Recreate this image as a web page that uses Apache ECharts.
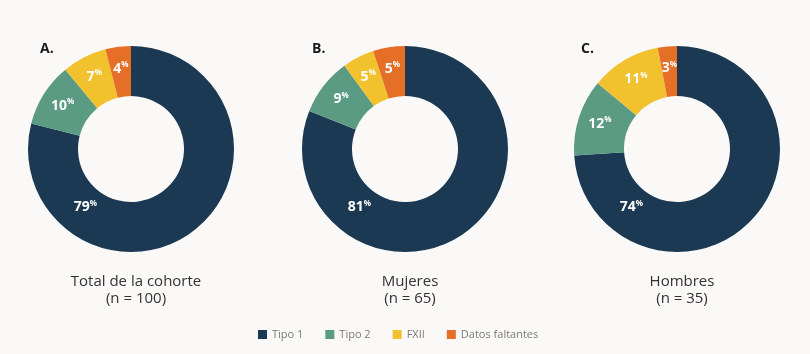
<!DOCTYPE html>
<html>
<head>
<meta charset="utf-8">
<script src="https://cdn.jsdelivr.net/npm/echarts@6/dist/echarts.min.js"></script>
<style>
  html, body { margin: 0; padding: 0; background: #faf9f8; }
  #chart { width: 810px; height: 354px; }
</style>
</head>
<body>
<div id="chart"></div>
<script>
const categories = ["Tipo 1", "Tipo 2", "FXII", "Datos faltantes"];
const totalCohorte = [79, 10, 7, 4];
const mujeres = [81, 9, 5, 5];
const hombres = [74, 12, 11, 3];

const panelLetters = ["A.", "B.", "C."];
const panelCaptions = ["Total de la cohorte\n(n = 100)", "Mujeres\n(n = 65)", "Hombres\n(n = 35)"];

const colors = ["#1c3954", "#5b9a83", "#f1c12e", "#e56f27"];
const centersX = [131, 405, 677];
const letterX = [35, 307, 576];

const chart = echarts.init(document.getElementById("chart"), null, { renderer: "canvas" });

// big slice label sits lower-left instead of at mid angle
const bigLabelAngle = 218;

function makeSeries(name, values, i) {
  return {
    name: name,
    type: "pie",
    center: [centersX[i], 149],
    radius: [53, 103],
    startAngle: 90,
    clockwise: true,
    silent: true,
    data: values.map((v, k) => ({ name: categories[k], value: v })),
    label: {
      show: true,
      position: "inside",
      formatter: (p) => `{v|${p.value}}{p|%}`,
      rich: {
        v: { color: "#ffffff", fontSize: 14, fontWeight: "bold", fontFamily: "Open Sans", lineHeight: 16 },
        p: { color: "#ffffff", fontSize: 8, fontWeight: "bold", fontFamily: "Open Sans", verticalAlign: "top", lineHeight: 16, padding: [0, 0, 6, 0] },
      },
    },
    labelLine: { show: false },
    labelLayout: (params) => {
      if (params.dataIndex !== 0) return {};
      const r = params.rect;
      const R = r.height / 2;
      const cx = r.x + r.width - R;
      const cy = r.y + R;
      const mid = R * (1 + 53 / 103) / 2 * 0.95;
      const a = (bigLabelAngle * Math.PI) / 180;
      return {
        x: cx + mid * Math.sin(a),
        y: cy - mid * Math.cos(a),
        align: "center",
        verticalAlign: "middle",
      };
    },
  };
}

const option = {
  backgroundColor: "#faf9f8",
  color: colors,
  animation: false,
  title: [
    ...panelLetters.map((t, i) => ({
      text: t,
      left: letterX[i],
      top: 37,
      textStyle: { fontSize: 14, fontWeight: "bold", color: "#1a1a1a", fontFamily: "Open Sans" },
    })),
    ...panelCaptions.map((t, i) => ({
      text: t,
      left: centersX[i],
      top: 268,
      textAlign: "center",
      textStyle: { fontSize: 15, fontWeight: "normal", color: "#333333", fontFamily: "Open Sans", lineHeight: 17 },
    })),
  ],
  legend: {
    data: categories,
    bottom: 9,
    left: 253,
    icon: "rect",
    itemWidth: 9,
    itemHeight: 9,
    itemGap: 22,
    textStyle: { fontSize: 11, color: "#7a7a7a", fontFamily: "Open Sans" },
  },
  series: [
    makeSeries("Total de la cohorte", totalCohorte, 0),
    makeSeries("Mujeres", mujeres, 1),
    makeSeries("Hombres", hombres, 2),
  ],
};

chart.setOption(option);
</script>
</body>
</html>
